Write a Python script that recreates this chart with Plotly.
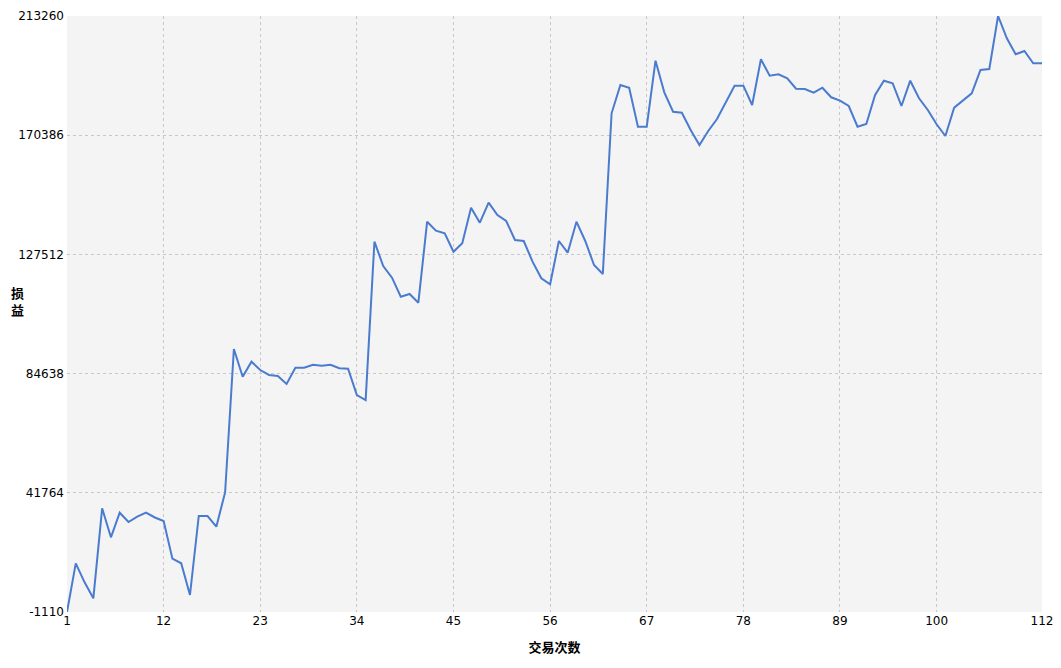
import plotly.graph_objects as go

# trade number and cumulative profit/loss
trade_no = list(range(1, 113))
pnl = [
    -1110, 16400, 9570, 3820, 36190, 25760, 34610, 31260, 33170, 34610,
    32880, 31620, 18060, 16410, 5000, 33420, 33420, 29570, 41900, 93490,
    83520, 88920, 85930, 84140, 83780, 80900, 86760, 86760, 87840, 87480,
    87840, 86550, 86400, 76940, 75140, 132080, 123340, 119130, 112300, 113270,
    110140, 139270, 136040, 135100, 128480, 131500, 144310, 138910, 146110, 141680,
    139530, 132690, 132330, 124890, 118920, 116760, 132330, 128120, 139270, 132330,
    123700, 120460, 178260, 188440, 187470, 173440, 173440, 197180, 185820, 178840,
    178480, 172260, 166860, 171900, 176210, 182440, 188190, 188190, 181250, 197690,
    191790, 192290, 190850, 187110, 187000, 185670, 187470, 184020, 182800, 180890,
    173440, 174420, 184850, 189990, 189050, 180890, 189990, 183660, 179450, 174310,
    170100, 180280, 182800, 185460, 193840, 194200, 213260, 205240, 199480, 200670,
    196250, 196250,
]
y_ticks = [-1110, 41764, 84638, 127512, 170386, 213260]
y_labels = ["-1110", "41764", "84638", "127512", "170386", "213260"]
x_ticks = [1, 12, 23, 34, 45, 56, 67, 78, 89, 100, 112]

fig = go.Figure(go.Scatter(x=trade_no, y=pnl, mode="lines",
                           line=dict(color="#4a7bcf", width=2),
                           hoverinfo="x+y"))

# page body adds an 8px offset, so margins are trimmed to match
fig.update_layout(
    width=1053, height=660,
    margin=dict(l=59, r=19, t=8, b=56, autoexpand=False),
    paper_bgcolor="white", plot_bgcolor="#f4f4f4",
    font=dict(family="DejaVu Sans", size=12, color="black"),
    showlegend=False,
)
fig.update_xaxes(range=[1, 112], tickvals=x_ticks,
                 ticktext=[str(t) for t in x_ticks], showgrid=True,
                 gridcolor="#c8c8c8", griddash="3px,3px", gridwidth=1,
                 zeroline=False, showline=False, ticks="", automargin=False,
                 title=dict(text="<b>交易次数</b>", standoff=15,
                            font=dict(family="Noto Sans CJK SC", size=13)))
fig.update_yaxes(range=[-1110, 213260], tickvals=y_ticks, ticktext=y_labels,
                 showgrid=True, gridcolor="#c8c8c8", griddash="3px,3px",
                 gridwidth=1, zeroline=False, showline=False, ticks="",
                 automargin=False, ticklabelstandoff=2)
# y title drawn as stacked characters at the far left
fig.add_annotation(text="<b>损<br>益</b>", xref="paper", yref="paper",
                   x=-0.0595, y=0.522, showarrow=False, xanchor="left",
                   font=dict(family="Noto Sans CJK SC", size=13))

fig.write_html("out.html")
